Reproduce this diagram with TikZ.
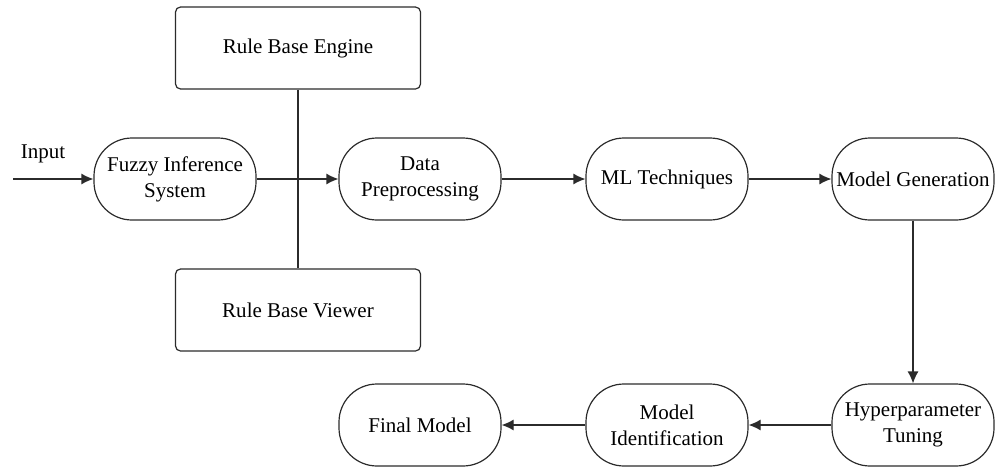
\documentclass[tikz,border=0pt]{standalone}
\usepackage{fontspec}
\setmainfont{Liberation Serif}
\usetikzlibrary{arrows.meta}
\definecolor{linegray}{HTML}{2B2B2B}
\tikzset{
  pill/.style={draw=linegray, line width=0.6pt, rounded corners=19pt, minimum width=81pt, minimum height=41pt, inner sep=0pt, align=center, font=\fontsize{10.5}{13}\selectfont},
  rulebox/.style={draw=linegray, line width=0.6pt, rounded corners=2.5pt, minimum width=122.5pt, minimum height=41pt, align=center, font=\fontsize{10.5}{13}\selectfont},
  flow/.style={draw=linegray, line width=0.6pt, -{Latex[length=6pt,width=5.5pt]}}
}

\begin{document}
\begin{tikzpicture}[x=0.5pt,y=-0.5pt]
            \useasboundingbox (0,0) rectangle (995,466);
            \node[rulebox] (engine) at (298,48) {Rule Base Engine};
            \node[rulebox] (viewer) at (298,310) {Rule Base Viewer};
            \node[pill] (fis) at (175,179) {Fuzzy Inference\\System};
            \node[pill] (prep) at (420,179) {Data\\Preprocessing};
            \node[pill] (ml) at (667,179) {ML Techniques};
            \node[pill] (gen) at (913,179) {Model Generation};
            \node[pill] (tune) at (913,425) {Hyperparameter\\Tuning};
            \node[pill] (ident) at (667,425) {Model\\Identification};
            \node[pill] (final) at (420,425) {Final Model};
            \coordinate (in) at (13,179);
            \node[font=\fontsize{10.5}{13}\selectfont] (inlabel) at (43,154) {Input};
            % rule base link
            \draw[linegray, line width=0.6pt] (engine) -- (viewer);
            \draw[flow] (in) -- (fis);
            \draw[flow] (fis) -- (prep);
            \draw[flow] (prep) -- (ml);
            \draw[flow] (ml) -- (gen);
            \draw[flow] (gen) -- (tune);
            \draw[flow] (tune) -- (ident);
            \draw[flow] (ident) -- (final);
        \end{tikzpicture}
\end{document}
